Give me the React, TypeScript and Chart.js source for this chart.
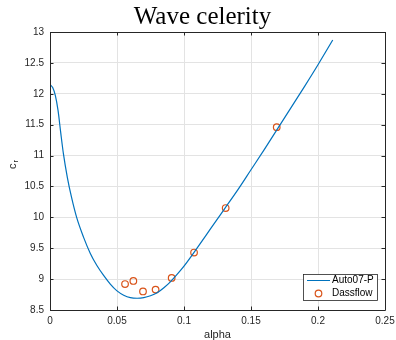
import React, { useEffect, useRef } from "react";
import { Chart, registerables } from "chart.js";

Chart.register(...registerables);

// ---- data ----
const curveAlpha = [0, 0.002, 0.004, 0.006, 0.008, 0.01, 0.013, 0.016, 0.02, 0.025, 0.03, 0.035, 0.04, 0.045, 0.05, 0.055, 0.06, 0.065, 0.07, 0.075, 0.08, 0.085, 0.09, 0.095, 0.1, 0.11, 0.12, 0.13, 0.14, 0.15, 0.16, 0.17, 0.18, 0.19, 0.2, 0.211];
const curveCr = [12.15, 12.1, 11.97, 11.73, 11.37, 11.03, 10.64, 10.33, 9.99, 9.68, 9.42, 9.22, 9.06, 8.92, 8.81, 8.74, 8.7, 8.69, 8.7, 8.73, 8.78, 8.86, 8.96, 9.08, 9.21, 9.51, 9.82, 10.13, 10.44, 10.77, 11.1, 11.44, 11.78, 12.12, 12.47, 12.87];
const dassAlpha = [0.056, 0.0622, 0.0694, 0.0788, 0.0908, 0.1075, 0.1311, 0.1692];
const dassCr = [8.92, 8.97, 8.8, 8.83, 9.02, 9.43, 10.15, 11.46];
const xTicks = [0, 0.05, 0.1, 0.15, 0.2, 0.25];
const yTicks = [8.5, 9, 9.5, 10, 10.5, 11, 11.5, 12, 12.5, 13];
const titleText = "Wave celerity";
const xLabel = "alpha";
const yLabelMain = "c";
const yLabelSub = "r";
const seriesNames = ["Auto07-P", "Dassflow"];

const BLUE = "#0072BD";
const ORANGE = "#D95319";
const AXIS = "#262626";
const SANS = "'Liberation Sans', Arial, Helvetica, sans-serif";

const fmt = (v: number) => String(Number(v.toFixed(3)));

const decorPlugin = {
  id: "decor",
  afterDraw(chart: any) {
    const { ctx, chartArea } = chart;
    const { left, right, top, bottom } = chartArea;
    const xs = chart.scales.x;
    const ys = chart.scales.y;
    ctx.save();
    // box
    ctx.strokeStyle = AXIS;
    ctx.lineWidth = 1;
    ctx.beginPath();
    ctx.rect(Math.round(left) + 0.5, Math.round(top) + 0.5, Math.round(right - left), Math.round(bottom - top));
    ctx.stroke();
    // inward ticks
    const tl = 3.5;
    ctx.beginPath();
    for (const v of xTicks) {
      const px = Math.round(xs.getPixelForValue(v)) + 0.5;
      ctx.moveTo(px, bottom);
      ctx.lineTo(px, bottom - tl);
      ctx.moveTo(px, top);
      ctx.lineTo(px, top + tl);
    }
    for (const v of yTicks) {
      const py = Math.round(ys.getPixelForValue(v)) + 0.5;
      ctx.moveTo(left, py);
      ctx.lineTo(left + tl, py);
      ctx.moveTo(right, py);
      ctx.lineTo(right - tl, py);
    }
    ctx.stroke();

    // title
    ctx.fillStyle = "#000";
    ctx.font = "25px 'Liberation Serif', 'Times New Roman', serif";
    ctx.textAlign = "center";
    ctx.textBaseline = "alphabetic";
    ctx.fillText(titleText, 202.5, 24);

    // y label with subscript
    ctx.save();
    ctx.fillStyle = AXIS;
    ctx.translate(15.5, 169);
    ctx.rotate(-Math.PI / 2);
    ctx.textAlign = "left";
    ctx.font = "11px " + SANS;
    ctx.fillText(yLabelMain, 0, 0);
    ctx.font = "8px " + SANS;
    ctx.fillText(yLabelSub, 6.5, 2.5);
    ctx.restore();

    // legend
    const lx = 303.5, ly = 274.5, lw = 74, lh = 26;
    ctx.fillStyle = "#fff";
    ctx.fillRect(lx, ly, lw, lh);
    ctx.strokeStyle = AXIS;
    ctx.lineWidth = 0.8;
    ctx.strokeRect(lx, ly, lw, lh);
    ctx.strokeStyle = BLUE;
    ctx.lineWidth = 1;
    ctx.beginPath();
    ctx.moveTo(307, 280.5);
    ctx.lineTo(330, 280.5);
    ctx.stroke();
    ctx.strokeStyle = ORANGE;
    ctx.lineWidth = 1.2;
    ctx.beginPath();
    ctx.arc(318.5, 293.5, 3.3, 0, Math.PI * 2);
    ctx.stroke();
    ctx.fillStyle = "#000";
    ctx.font = "10px " + SANS;
    ctx.textAlign = "left";
    ctx.textBaseline = "middle";
    ctx.fillText(seriesNames[0], 332, 280.5);
    ctx.fillText(seriesNames[1], 332, 293.5);
    ctx.restore();
  },
};

export default function App() {
  const ref = useRef<HTMLCanvasElement | null>(null);
  useEffect(() => {
    if (!ref.current) return;
    const chart = new Chart(ref.current, {
      type: "scatter",
      data: {
        datasets: [
          {
            label: seriesNames[0],
            data: curveAlpha.map((a, i) => ({ x: a, y: curveCr[i] })),
            showLine: true,
            borderColor: BLUE,
            borderWidth: 1.2,
            pointRadius: 0,
            cubicInterpolationMode: "monotone",
            fill: false,
          },
          {
            label: seriesNames[1],
            data: dassAlpha.map((a, i) => ({ x: a, y: dassCr[i] })),
            showLine: false,
            borderColor: ORANGE,
            backgroundColor: "rgba(0,0,0,0)",
            borderWidth: 1.2,
            pointRadius: 3.3,
            pointStyle: "circle",
          },
        ],
      },
      options: {
        responsive: false,
        animation: false,
        devicePixelRatio: 1,
        layout: { padding: { top: 32, right: 11, left: 0, bottom: 0 } },
        plugins: {
          legend: { display: false },
          tooltip: { enabled: false },
          title: { display: false },
        },
        scales: {
          x: {
            type: "linear",
            min: 0,
            max: 0.25,
            afterBuildTicks: (s: any) => {
              s.ticks = xTicks.map((v) => ({ value: v }));
            },
            afterFit: (s: any) => {
              s.height = 30;
              s.paddingLeft = 0;
              s.paddingRight = 0;
            },
            grid: { color: "#e3e3e3", lineWidth: 1, drawTicks: false },
            border: { display: false },
            ticks: {
              padding: 5,
              color: AXIS,
              font: { family: SANS, size: 10 },
              callback: (v: any) => fmt(Number(v)),
              maxRotation: 0,
              autoSkip: false,
            },
            title: {
              display: true,
              text: xLabel,
              color: AXIS,
              font: { family: SANS, size: 11, lineHeight: 1 },
              padding: { top: 0, bottom: 0 },
            },
          },
          y: {
            type: "linear",
            min: 8.5,
            max: 13,
            afterBuildTicks: (s: any) => {
              s.ticks = yTicks.map((v) => ({ value: v }));
            },
            afterFit: (s: any) => {
              s.width = 50;
              s.paddingTop = 0;
              s.paddingBottom = 0;
            },
            grid: { color: "#e3e3e3", lineWidth: 1, drawTicks: false },
            border: { display: false },
            ticks: {
              padding: 6,
              color: AXIS,
              font: { family: SANS, size: 10 },
              callback: (v: any) => fmt(Number(v)),
              autoSkip: false,
            },
          },
        },
      } as any,
      plugins: [decorPlugin],
    });
    return () => chart.destroy();
  }, []);
  return (
    <div style={{ position: "fixed", left: 0, top: 0, width: 396, height: 340, background: "#fff" }}>
      <canvas ref={ref} width={396} height={340} style={{ display: "block", width: 396, height: 340 }} />
    </div>
  );
}
